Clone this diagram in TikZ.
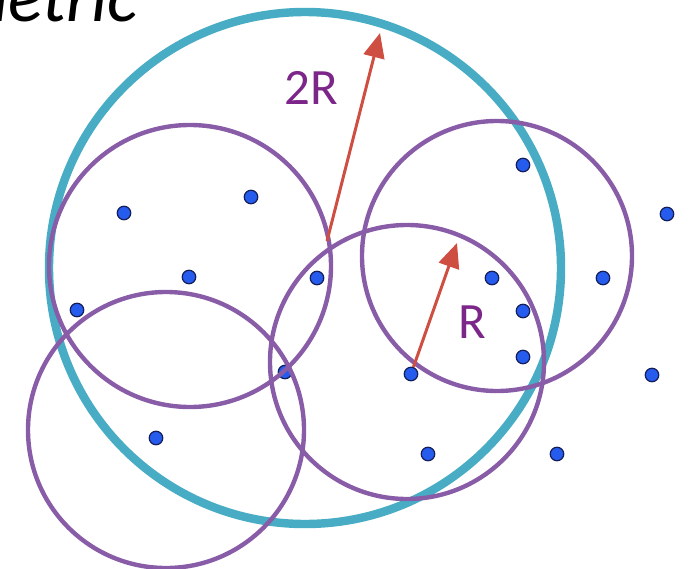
\documentclass[tikz,border=0pt]{standalone}
\usepackage{fontspec}
\setmainfont{Carlito}
\usetikzlibrary{arrows.meta}

\definecolor{ringcyan}{RGB}{72,172,196}
\definecolor{ringpurple}{RGB}{137,92,168}
\definecolor{arrowred}{RGB}{206,78,66}
\definecolor{labelpurple}{RGB}{125,38,138}
\definecolor{dotblue}{RGB}{38,92,238}
\definecolor{dotedge}{RGB}{20,30,90}

\begin{document}
\begin{tikzpicture}[
        x=0.02cm, y=-0.02cm,
        bigring/.style={ringcyan, line width=4.8pt},
        ring/.style={ringpurple, line width=2.5pt},
        point/.style={circle, fill=dotblue, draw=dotedge, line width=0.7pt, minimum size=0.27cm, inner sep=0pt},
        radiusarrow/.style={-{Triangle[length=14pt, width=12pt]}, arrowred, line width=1.7pt},
        tag/.style={labelpurple, font=\fontsize{29}{34}\selectfont}
    ]
    \useasboundingbox (0,0) rectangle (689,568);

    % Titelrest oben links
    \node[anchor=base east, inner sep=0pt, font=\fontsize{41}{46}\selectfont\itshape] (title) at (138,21) {metric};

    % grosser Kreis (2R)
    \draw[bigring] (305,268) circle [radius=256];

    % halb verdeckter Punkt
    \node[point] (p0) at (285,372) {};

    % kleine Kreise (R)
    \foreach \x/\y/\r in {190/266/141, 166/430/138, 407/362/137, 497/256/135} {
            \draw[ring] (\x,\y) circle [radius=\r];
        }

    % Punkte
    \foreach \n/\x/\y in {1/124/213, 2/251/197, 3/189/277, 4/77/310, 5/317/278,
            6/156/438, 7/523/165, 8/667/214, 9/492/278, 10/603/278,
            11/523/311, 12/523/357, 13/411/374, 14/652/375, 15/428/454, 16/557/454} {
            \node[point] (p\n) at (\x,\y) {};
        }

    % Radien
    \coordinate (tip2R) at (380,33);
    \coordinate (foot2R) at (327,241);
    \coordinate (tipR) at (457,243);
    \draw[radiusarrow] (foot2R) -- (tip2R);
    \draw[radiusarrow] (p13) -- (tipR);

    % Beschriftung
    \node[tag] (label2R) at (311,88) {2R};
    \node[tag] (labelR) at (472,322) {R};
\end{tikzpicture}
\end{document}
